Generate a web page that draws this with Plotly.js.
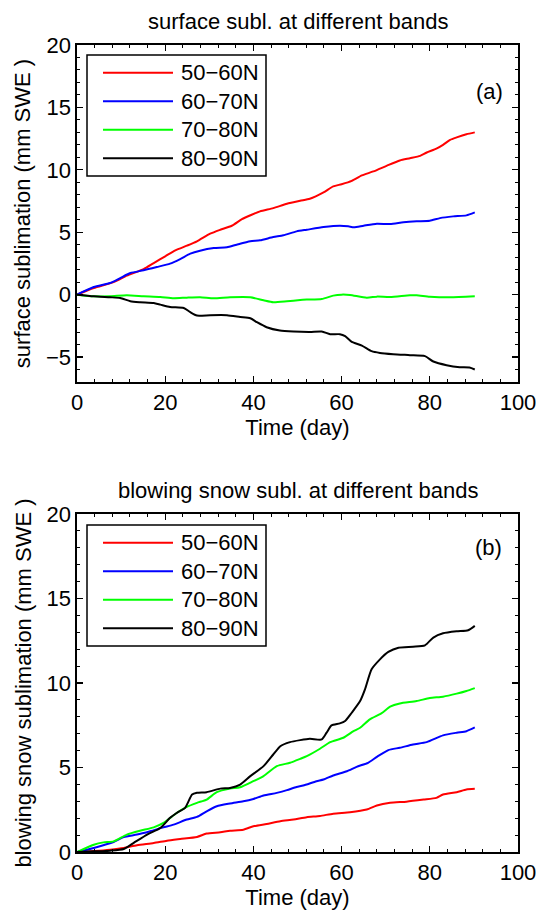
<!DOCTYPE html>
<html><head><meta charset="utf-8">
<script src="https://cdn.plot.ly/plotly-3.0.1.min.js"></script>
<style>html,body{margin:0;padding:0;background:#fff}</style>
</head><body><div id="chart" style="width:539px;height:912px"></div>
<script>
// ---------- data ----------
const bands = ['50−60N', '60−70N', '70−80N', '80−90N'];
const bandColors = ['#ff0000', '#0000ff', '#00ff00', '#000000'];
const xTickVals = [0, 20, 40, 60, 80, 100];

// (a) surface sublimation (mm SWE)
const surfDays50 = [0, 3.8, 8.3, 11.3, 15.1, 17.4, 20, 22.3, 24.9, 27.2, 30.2, 32.5, 35.1, 37.4, 39.6, 41.5, 44.5, 47.6, 50.6, 52.8, 55.9, 58.1, 60, 62.3, 64.6, 67.2, 70.2, 73.2, 75.5, 77.8, 79.3, 81.5, 83, 84.6, 86.1, 88.3, 90.2];
const surf50 = [0, 0.53, 1.0, 1.52, 2.05, 2.53, 3.07, 3.55, 3.92, 4.27, 4.88, 5.2, 5.52, 6.05, 6.4, 6.67, 6.93, 7.28, 7.52, 7.68, 8.19, 8.67, 8.85, 9.12, 9.55, 9.87, 10.32, 10.75, 10.93, 11.12, 11.39, 11.7, 12.0, 12.4, 12.6, 12.85, 13.0];
const surfDays60 = [0, 3.8, 7.5, 9.8, 12.1, 15.1, 18.1, 21.1, 23.4, 25.7, 27.9, 31, 34, 36.2, 39.3, 41.5, 44.5, 46.8, 49.8, 52.1, 55.9, 59.6, 61.5, 62.8, 65, 68, 71, 74, 77, 80, 82.3, 85.3, 88.3, 90.2];
const surf60 = [0, 0.61, 0.93, 1.33, 1.73, 1.95, 2.21, 2.48, 2.85, 3.28, 3.52, 3.73, 3.79, 4.0, 4.27, 4.35, 4.61, 4.75, 5.07, 5.2, 5.41, 5.52, 5.47, 5.39, 5.52, 5.68, 5.65, 5.79, 5.87, 5.92, 6.13, 6.27, 6.35, 6.59];
const surfDays70 = [0, 3.8, 7.5, 11.3, 15.1, 18.9, 21.9, 24.9, 27.9, 31, 34.7, 39.3, 42.3, 44.5, 47.6, 50.6, 52.1, 55.5, 58.1, 60, 61.9, 65.7, 68, 71, 75.5, 77, 80, 84.6, 90.2];
const surf70 = [0, -0.13, -0.13, -0.05, -0.13, -0.19, -0.29, -0.24, -0.21, -0.29, -0.21, -0.21, -0.45, -0.61, -0.53, -0.43, -0.4, -0.35, -0.08, 0, -0.03, -0.24, -0.16, -0.19, -0.05, -0.05, -0.16, -0.21, -0.13];
const surfDays80 = [0, 3.8, 7.5, 9.8, 12.1, 14.3, 17.4, 18.9, 21.1, 24.2, 25.7, 27.2, 30.2, 34, 37, 39.3, 40.8, 43, 46, 49.1, 52.8, 55.5, 57.4, 59.6, 60.8, 62.3, 64.6, 66.8, 68.7, 71.7, 75.5, 78.9, 80.8, 83.8, 86.8, 89, 90.2];
const surf80 = [0, -0.13, -0.21, -0.27, -0.53, -0.61, -0.67, -0.8, -0.99, -1.07, -1.41, -1.68, -1.65, -1.65, -1.79, -1.89, -2.21, -2.61, -2.88, -2.96, -2.99, -2.96, -3.17, -3.17, -3.33, -3.79, -4.08, -4.53, -4.67, -4.77, -4.85, -4.93, -5.36, -5.65, -5.81, -5.84, -6.0];

// (b) blowing snow sublimation (mm SWE)
const blowDays50 = [0, 3.8, 7.5, 10.6, 13.6, 17.4, 20.4, 23.4, 27.2, 29.4, 32.5, 34.7, 37.7, 40, 43, 46.1, 49.1, 52.1, 55.1, 58.1, 61.9, 65.7, 68, 71, 74.7, 78.6, 81.5, 83, 86.1, 88.3, 90.2];
const blow50 = [0, 0.06, 0.14, 0.24, 0.4, 0.53, 0.67, 0.77, 0.89, 1.09, 1.17, 1.26, 1.32, 1.52, 1.66, 1.82, 1.92, 2.06, 2.13, 2.27, 2.35, 2.51, 2.75, 2.91, 2.98, 3.1, 3.2, 3.4, 3.54, 3.7, 3.74];
const blowDays60 = [0, 3.8, 8.3, 10.6, 13.6, 16.6, 19.6, 21.9, 24.9, 27.2, 29.4, 31.7, 34.7, 37.7, 40, 42.3, 45.3, 47.6, 49.8, 51.3, 54.3, 55.9, 58.1, 61.2, 63.4, 66, 68, 70.6, 73.2, 76.2, 79.3, 83, 86.1, 88.3, 90.2];
const blow60 = [0, 0.24, 0.59, 0.89, 1.03, 1.23, 1.46, 1.62, 1.92, 2.08, 2.41, 2.71, 2.87, 3.0, 3.14, 3.34, 3.5, 3.66, 3.85, 3.93, 4.19, 4.29, 4.53, 4.78, 5.04, 5.28, 5.63, 6.03, 6.17, 6.36, 6.5, 6.9, 7.06, 7.15, 7.37];
const blowDays70 = [0, 3.8, 6, 8.3, 11.3, 14.3, 17.4, 19.6, 22.6, 24.9, 27.2, 29.4, 31.7, 34.7, 37, 40, 42.3, 45.3, 48.3, 50.6, 52.1, 55.1, 57.4, 60.4, 62.7, 64.2, 66.4, 69, 71, 73.2, 77, 80, 83, 86.1, 88.3, 90.2];
const blow70 = [0, 0.43, 0.57, 0.63, 1.03, 1.26, 1.46, 1.72, 2.31, 2.67, 2.91, 3.1, 3.54, 3.75, 3.83, 4.19, 4.49, 5.08, 5.28, 5.51, 5.67, 6.11, 6.5, 6.76, 7.15, 7.35, 7.85, 8.2, 8.6, 8.79, 8.93, 9.11, 9.19, 9.37, 9.53, 9.7];
const blowDays80 = [0, 3.8, 7.5, 10.6, 12.8, 15.9, 18.9, 21.1, 22.6, 24.5, 26.1, 27.2, 29.4, 32.5, 34.7, 37, 39.3, 42.3, 44.5, 46.1, 48.3, 50.6, 52.8, 55.5, 56.6, 57.7, 59.6, 60.8, 62.3, 64.2, 65.3, 66.8, 68.7, 70.6, 72.9, 76.2, 78.9, 80.8, 83, 86.1, 88.7, 90.2];
const blow80 = [0, 0.04, 0.08, 0.18, 0.53, 1.03, 1.42, 2.02, 2.31, 2.61, 3.4, 3.5, 3.54, 3.75, 3.79, 3.99, 4.49, 5.08, 5.77, 6.26, 6.5, 6.62, 6.7, 6.66, 7.06, 7.49, 7.61, 7.75, 8.24, 8.93, 9.62, 10.81, 11.4, 11.84, 12.09, 12.15, 12.23, 12.69, 12.94, 13.06, 13.12, 13.38];

// ---------- layout helpers ----------
const W = 539, H = 912;
const M = {l: 77, r: 21, t: 45, b: 60};
const FONT = 'Liberation Sans, Arial, Helvetica, sans-serif';
const FS = 22;
const PW = W - M.l - M.r, PH = H - M.t - M.b;
const px2x = p => (p - M.l) / PW;
const px2y = p => (H - M.b - p) / PH;

const surfX = [surfDays50, surfDays60, surfDays70, surfDays80];
const surfY = [surf50, surf60, surf70, surf80];
const blowX = [blowDays50, blowDays60, blowDays70, blowDays80];
const blowY = [blow50, blow60, blow70, blow80];

const traces = [];
bands.forEach((b, i) => {
  traces.push({x: surfX[i], y: surfY[i], type: 'scatter', mode: 'lines', name: b,
    line: {color: bandColors[i], width: 2, shape: 'spline', smoothing: 0.6}, xaxis: 'x', yaxis: 'y', showlegend: false});
});
bands.forEach((b, i) => {
  traces.push({x: blowX[i], y: blowY[i], type: 'scatter', mode: 'lines', name: b,
    line: {color: bandColors[i], width: 2, shape: 'spline', smoothing: 0.6}, xaxis: 'x2', yaxis: 'y2', showlegend: false});
});

function axis(extra) {
  return Object.assign({
    showline: true, linecolor: '#000', linewidth: 1.6, mirror: 'ticks',
    ticks: 'inside', ticklen: 6, tickwidth: 1.2, tickcolor: '#000',
    showgrid: false, zeroline: false,
    tickfont: {family: FONT, size: FS, color: '#000'}
  }, extra);
}

const shapes = [], annotations = [];
function addLegend(boxTop, boxBottom) {
  shapes.push({type: 'rect', xref: 'paper', yref: 'paper',
    x0: px2x(87), x1: px2x(266), y0: px2y(boxBottom), y1: px2y(boxTop),
    line: {color: '#000', width: 1.5}, fillcolor: '#fff', layer: 'above'});
  bands.forEach((b, i) => {
    const ry = boxTop + 17.7 + i * 28.5;
    shapes.push({type: 'line', xref: 'paper', yref: 'paper',
      x0: px2x(103), x1: px2x(173), y0: px2y(ry), y1: px2y(ry),
      line: {color: bandColors[i], width: 2}, layer: 'above'});
    annotations.push({xref: 'paper', yref: 'paper', x: px2x(179), y: px2y(ry),
      xanchor: 'left', yanchor: 'middle', showarrow: false, text: b,
      font: {family: FONT, size: FS, color: '#000'}});
  });
}
addLegend(55, 176);
addLegend(525, 646);

annotations.push({xref: 'paper', yref: 'paper', x: 0.5, y: px2y(22), xanchor: 'center', yanchor: 'middle',
  showarrow: false, text: 'surface subl. at different bands', font: {family: FONT, size: FS, color: '#000'}});
annotations.push({xref: 'paper', yref: 'paper', x: 0.5, y: px2y(490), xanchor: 'center', yanchor: 'middle',
  showarrow: false, text: 'blowing snow subl. at different bands', font: {family: FONT, size: FS, color: '#000'}});
annotations.push({xref: 'paper', yref: 'paper', x: px2x(489), y: px2y(91), xanchor: 'center', yanchor: 'middle',
  showarrow: false, text: '(a)', font: {family: FONT, size: FS, color: '#000'}});
annotations.push({xref: 'paper', yref: 'paper', x: px2x(488), y: px2y(547), xanchor: 'center', yanchor: 'middle',
  showarrow: false, text: '(b)', font: {family: FONT, size: FS, color: '#000'}});

const titleFont = {family: FONT, size: FS, color: '#000'};
const layout = {
  width: W, height: H, margin: M, paper_bgcolor: '#fff', plot_bgcolor: '#fff',
  showlegend: false,
  xaxis: axis({range: [0, 100], tickvals: xTickVals, anchor: 'y',
    minor: {ticks: 'inside', ticklen: 3, tickcolor: '#000', tickwidth: 1, dtick: 4},
    title: {text: 'Time (day)', font: titleFont, standoff: 4}}),
  yaxis: axis({range: [-7, 20], dtick: 5, domain: [px2y(382), 1], anchor: 'x',
    minor: {ticks: 'inside', ticklen: 3, tickcolor: '#000', tickwidth: 1, dtick: 1},
    title: {text: 'surface sublimation (mm SWE )', font: titleFont, standoff: 9}}),
  xaxis2: axis({range: [0, 100], tickvals: xTickVals, anchor: 'y2',
    minor: {ticks: 'inside', ticklen: 3, tickcolor: '#000', tickwidth: 1, dtick: 4},
    title: {text: 'Time (day)', font: titleFont, standoff: 4}}),
  yaxis2: axis({range: [0, 20], dtick: 5, domain: [0, px2y(514)], anchor: 'x2',
    minor: {ticks: 'inside', ticklen: 3, tickcolor: '#000', tickwidth: 1, dtick: 1},
    title: {text: 'blowing snow sublimation (mm SWE )', font: titleFont, standoff: 9}}),
  shapes: shapes, annotations: annotations
};

Plotly.newPlot('chart', traces, layout, {displayModeBar: false, staticPlot: true});
</script></body></html>
